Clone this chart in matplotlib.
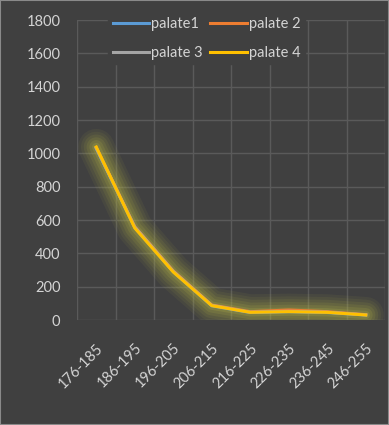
import matplotlib
matplotlib.use("Agg")
import matplotlib.pyplot as plt
from matplotlib.patches import Rectangle

categories = ["176-185", "186-195", "196-205", "206-215", "216-225", "226-235", "236-245", "246-255"]
palate1 = [1030, 555, 290, 85, 45, 50, 45, 30]
palate2 = [1035, 560, 295, 90, 50, 60, 50, 32]
palate3 = [1032, 558, 292, 88, 47, 52, 47, 31]
palate4 = [1038, 552, 288, 86, 46, 50, 46, 30]
series_names = ["palate1", "palate 2", "palate 3", "palate 4"]
yticks = [0, 200, 400, 600, 800, 1000, 1200, 1400, 1600, 1800]

bg = "#404040"
grid = "#5a5a5a"
txt = "#d4d4d4"
colors = ["#5B9BD5", "#ED7D31", "#A5A5A5", "#FFC000"]

plt.rcParams['font.family'] = ['Lato', 'DejaVu Sans']

fig = plt.figure(figsize=(3.89, 4.25), dpi=100, facecolor=bg)
ax = fig.add_axes([77/389, 1 - 320/425, 308/389, 300/425])
ax.set_facecolor(bg)

x = list(range(len(categories)))
ax.set_xlim(-0.5, len(categories) - 0.5)
ax.set_ylim(0, 1800)

# gridlines
for yv in yticks:
    ax.axhline(yv, color=grid, lw=1.0, zorder=0)
for i in range(len(categories) + 1):
    ax.axvline(i - 0.5, color=grid, lw=1.0, zorder=0)

# glow
for lw, a in [(26, 0.07), (22, 0.08), (18, 0.10), (14, 0.12), (10, 0.15), (6, 0.2)]:
    ax.plot(x, palate4, color="#b8b848", lw=lw, alpha=a, solid_capstyle='round',
            solid_joinstyle='round', zorder=1)

data = [palate1, palate2, palate3, palate4]
lines = []
for vals, name, c in zip(data, series_names, colors):
    ln, = ax.plot(x, vals, color=c, lw=2.2, label=name, solid_joinstyle='round', zorder=3)
    lines.append(ln)

for s in ax.spines.values():
    s.set_visible(False)

ax.set_yticks(yticks)
ax.set_yticklabels([str(v) for v in yticks])
ax.set_xticks(x)
ax.set_xticklabels(categories, rotation=45, ha='right', va='top', rotation_mode='anchor')
ax.tick_params(axis='y', length=0, pad=12, colors=txt, labelsize=10.5)
ax.tick_params(axis='x', length=0, pad=15, colors=txt, labelsize=10.5)

order = [0, 2, 1, 3]
leg = ax.legend([lines[i] for i in order], [series_names[i] for i in order],
                ncol=2, loc='upper left', bbox_to_anchor=(24/308, 1.05),
                frameon=True, facecolor=bg, edgecolor=bg, framealpha=1,
                fontsize=10.5, handlelength=2.5, handletextpad=0.15,
                columnspacing=0.5, labelspacing=1.05, borderpad=0.3)
for t in leg.get_texts():
    t.set_color(txt)
leg.set_zorder(5)

fig.patches.append(Rectangle((0, 0), 1, 1, transform=fig.transFigure,
                             fill=False, edgecolor="#8a8a8a", lw=1.5))

fig.savefig("out.png", dpi=100, facecolor=bg)
